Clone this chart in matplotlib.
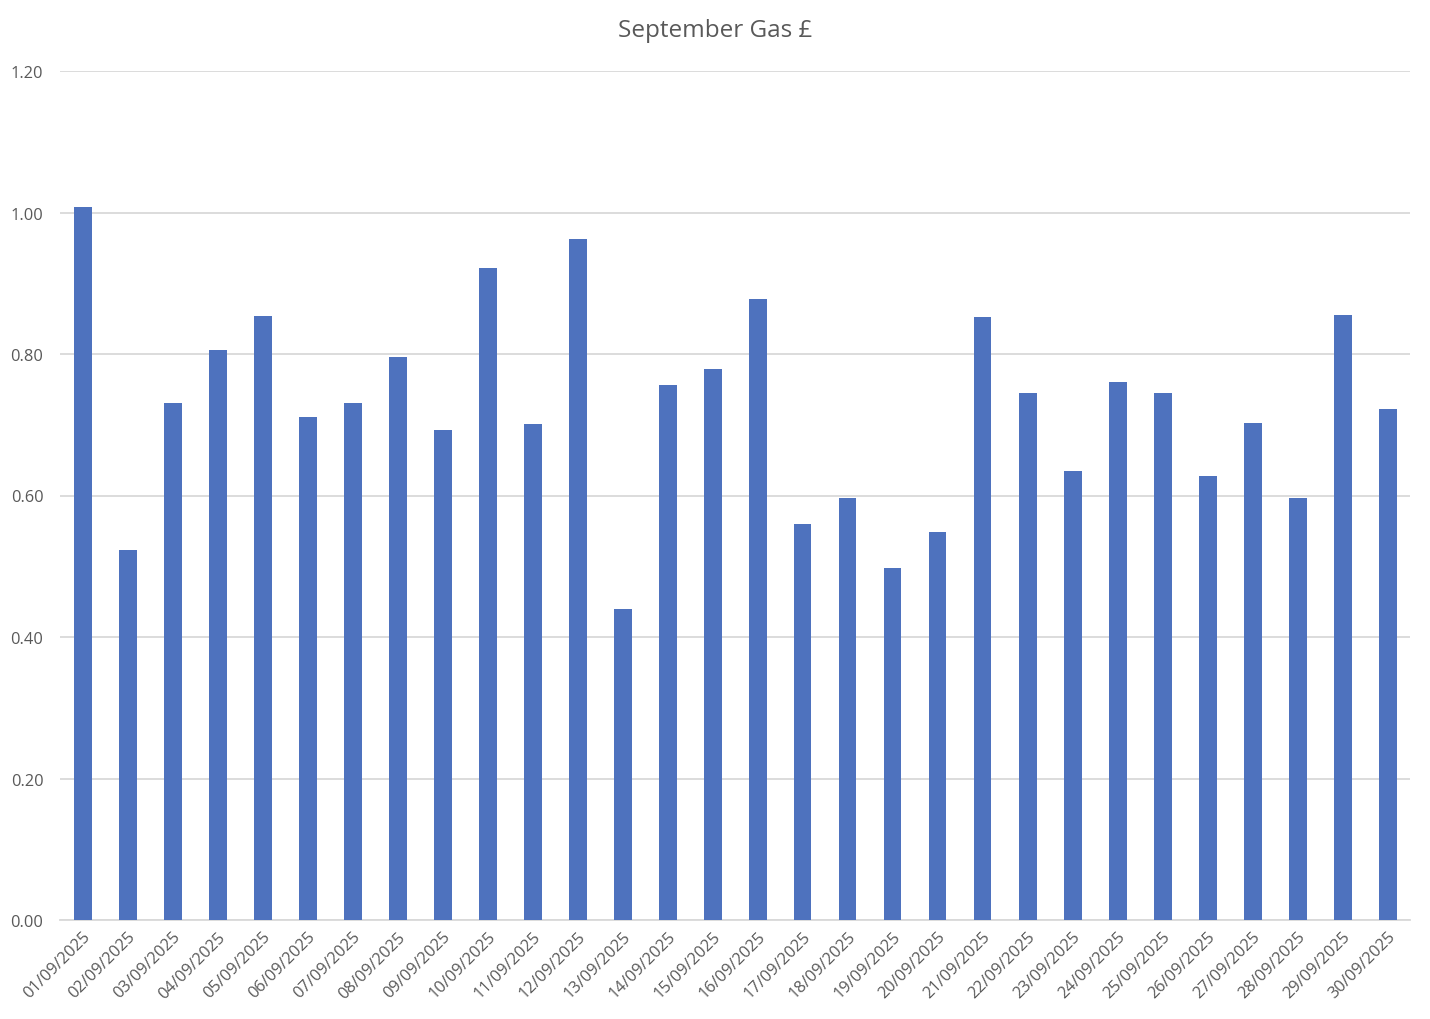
import numpy as np
import matplotlib.pyplot as plt

plt.rcParams['font.family'] = ['Open Sans', 'DejaVu Sans']

# 日期标签
dates = ["%02d/09/2025" % d for d in range(1, 31)]

# 每日燃气费用 (£)
cost = [1.008, 0.523, 0.731, 0.806, 0.854, 0.711, 0.731, 0.796, 0.693, 0.922,
        0.701, 0.963, 0.440, 0.756, 0.779, 0.878, 0.560, 0.596, 0.498, 0.548,
        0.852, 0.745, 0.635, 0.760, 0.745, 0.628, 0.702, 0.596, 0.855, 0.722]

yticks = [0.0, 0.2, 0.4, 0.6, 0.8, 1.0, 1.2]

text_col = '#595959'
grid_col = '#D9D9D9'

fig = plt.figure(figsize=(14.3, 10.2), dpi=100)
ax = fig.add_axes([60 / 1430, 1 - 921 / 1020, 1350 / 1430, 849 / 1020])

x = np.arange(len(dates))
ax.bar(x, cost, width=0.4, color='#4E72BE', zorder=3)

ax.set_xlim(-0.5, len(dates) - 0.5)
ax.set_ylim(0, 1.2)
ax.set_yticks(yticks)
ax.set_yticklabels(["%.2f" % v for v in yticks])
ax.set_xticks(x)
ax.set_xticklabels(dates, rotation=45, ha='right', rotation_mode='anchor')

ax.grid(axis='y', color=grid_col, linewidth=1.3, zorder=0)
for s in ['top', 'right', 'left']:
    ax.spines[s].set_visible(False)
ax.spines['bottom'].set_color(grid_col)
ax.spines['bottom'].set_linewidth(1.3)
ax.tick_params(axis='both', length=0, labelcolor=text_col, labelsize=11.8)
ax.tick_params(axis='y', pad=12)
ax.tick_params(axis='x', pad=6)

fig.text(0.5, 1 - 31 / 1020, "September Gas £", ha='center', va='center',
         fontsize=17.5, color=text_col)

fig.savefig('out.png', dpi=100)
